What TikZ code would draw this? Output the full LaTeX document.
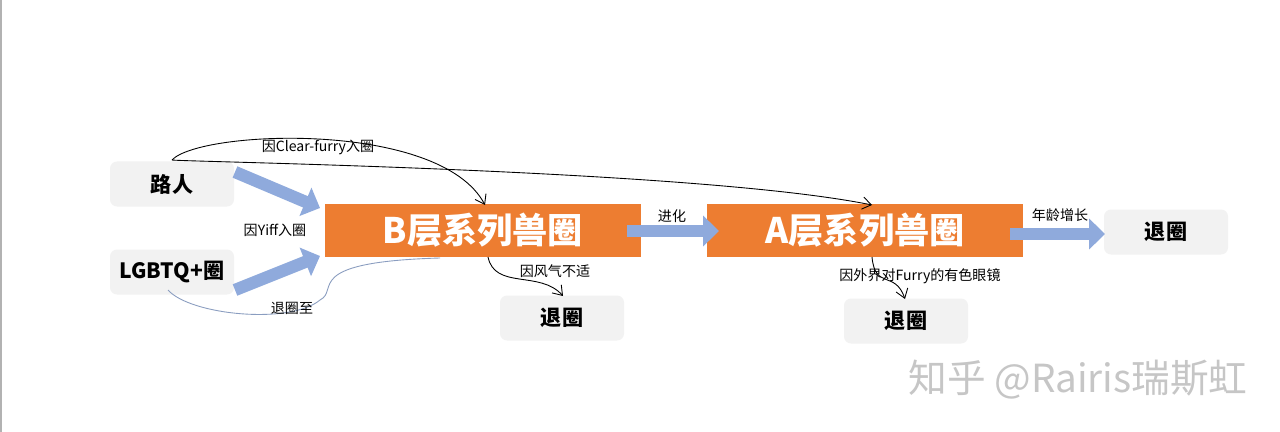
\documentclass[tikz,border=0pt]{standalone}
\usepackage{fontspec}
\setmainfont{Noto Sans CJK SC}
\usetikzlibrary{arrows.meta}
\definecolor{org}{HTML}{ED7D31}
\definecolor{lb}{HTML}{8FAADC}
\definecolor{gb}{HTML}{F2F2F2}
\tikzset{
 gbox/.style={fill=gb,rounded corners=4pt,minimum width=124\pxu,minimum height=45\pxu,font=\bfseries\fontsize{12}{12}\selectfont},
 obox/.style={fill=org,minimum width=316\pxu,minimum height=53\pxu,text=white,font=\bfseries\fontsize{20}{20}\selectfont},
 thick arr/.style={draw=lb,line width=7pt,-{Triangle[length=9pt,width=17pt]}},
 thin/.style={draw=black,line width=0.5pt,-{Straight Barb[length=5pt,width=7pt]}},
 lab/.style={font=\fontsize{8}{8}\selectfont}
}
\newlength{\pxu}\setlength{\pxu}{0.02cm}
\begin{document}
\begin{tikzpicture}[x=0.02cm,y=-0.02cm]
\useasboundingbox (0,0) rectangle (1280,432);
\fill[white] (0,0) rectangle (1280,432);
\draw[gray!60,line width=1pt] (1,0) -- (1,432);
\node[gbox] (lr) at (172,184) {路人};
\node[gbox] (lg) at (172,272) {LGBTQ+圈};
\node[obox] (B) at (483,230) {B层系列兽圈};
\node[obox] (A) at (865,230) {A层系列兽圈};
\node[gbox] (q1) at (1166,232) {退圈};
\node[gbox] (q2) at (562,318) {退圈};
\node[gbox] (q3) at (906,321) {退圈};
\coordinate (s) at (172,160);
\draw[thick arr] (235,172) -- (320,208);
\draw[thick arr] (235,290) -- (320,256);
\draw[thick arr] (627,231) -- (719,231);
\draw[thick arr] (1010,234) -- (1105,234);
\draw[thin] (s) .. controls (200,130) and (440,120) .. (485,205);
\draw[thin] (s) .. controls (190,162) and (700,170) .. (872,205);
\draw[thin] (488,257) .. controls (495,290) and (540,270) .. (563,296);
\draw[thin] (872,257) .. controls (875,290) and (895,270) .. (905,299);
\draw[draw=lb!70!gray,line width=0.5pt] (440,258) .. controls (300,262) and (340,290) .. (320,300) .. controls (290,325) and (190,315) .. (168,290);
\node[lab] at (318,147) {因Clear-furry入圈};
\node[lab] at (275,230) {因Yiff入圈};
\node[lab] at (292,308) {退圈至};
\node[lab] at (555,271) {因风气不适};
\node[lab] at (920,276) {因外界对Furry的有色眼镜};
\node[lab] at (672,216) {进化};
\node[lab] at (1060,215) {年龄增长};
\node[text=gray!45,font=\fontsize{22}{22}\selectfont] (wm) at (1078,380) {知乎 @Rairis瑞斯虹};
\end{tikzpicture}
\end{document}
